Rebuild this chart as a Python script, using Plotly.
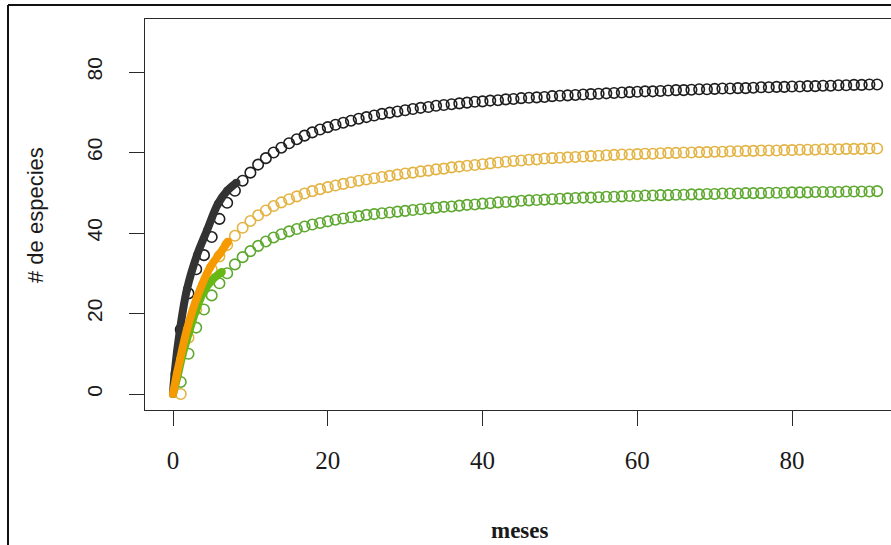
import plotly.graph_objects as go

# ---- data ----
months = list(range(1, 92))

black_open = [16, 25, 31, 34.5, 39, 43.5, 47.5, 50.5, 53, 55, 57, 58.6, 60, 61.2, 62.3, 63.3, 64.2, 65, 65.7, 66.3,
              66.9, 67.4, 67.9, 68.4, 68.8, 69.2, 69.6, 69.9, 70.2, 70.5, 70.8, 71.1, 71.3, 71.6, 71.8, 72.0, 72.2,
              72.4, 72.6, 72.7, 72.9, 73.0, 73.2, 73.3, 73.5, 73.6, 73.7, 73.8, 74.0, 74.1, 74.2, 74.3, 74.4, 74.5,
              74.6, 74.7, 74.8, 74.9, 75.0, 75.1, 75.2, 75.2, 75.3, 75.4, 75.5, 75.5, 75.6, 75.7, 75.7, 75.8, 75.9,
              75.9, 76.0, 76.0, 76.1, 76.2, 76.2, 76.3, 76.3, 76.4, 76.4, 76.5, 76.5, 76.6, 76.6, 76.7, 76.7, 76.8,
              76.8, 76.9, 76.9]

orange_open = [0, 14, 21, 27, 31, 34.2, 37, 39.3, 41.3, 43, 44.4, 45.6, 46.7, 47.6, 48.4, 49.1, 49.8, 50.4, 50.9,
               51.4, 51.8, 52.2, 52.6, 53.0, 53.3, 53.6, 53.9, 54.2, 54.5, 54.8, 55.0, 55.3, 55.5, 55.8, 56.0, 56.3,
               56.5, 56.7, 56.9, 57.1, 57.3, 57.5, 57.7, 57.9, 58.0, 58.2, 58.3, 58.5, 58.6, 58.7, 58.8, 58.9, 59.0,
               59.1, 59.2, 59.3, 59.4, 59.5, 59.5, 59.6, 59.7, 59.7, 59.8, 59.9, 59.9, 60.0, 60.0, 60.1, 60.1, 60.2,
               60.2, 60.3, 60.3, 60.4, 60.4, 60.5, 60.5, 60.5, 60.6, 60.6, 60.7, 60.7, 60.7, 60.8, 60.8, 60.8, 60.9,
               60.9, 60.9, 61.0, 61.0]

green_open = [3, 10, 16.5, 21, 24.5, 27.5, 30, 32.2, 34.0, 35.5, 36.8, 37.9, 38.9, 39.7, 40.4, 41.0, 41.6, 42.1,
              42.5, 42.9, 43.3, 43.6, 43.9, 44.2, 44.5, 44.7, 44.9, 45.1, 45.3, 45.5, 45.7, 45.9, 46.1, 46.3, 46.5,
              46.6, 46.8, 47.0, 47.1, 47.3, 47.4, 47.6, 47.7, 47.8, 48.0, 48.1, 48.2, 48.3, 48.4, 48.5, 48.6, 48.7,
              48.8, 48.8, 48.9, 49.0, 49.0, 49.1, 49.2, 49.2, 49.3, 49.3, 49.4, 49.4, 49.5, 49.5, 49.6, 49.6, 49.7,
              49.7, 49.8, 49.8, 49.8, 49.9, 49.9, 49.9, 50.0, 50.0, 50.0, 50.1, 50.1, 50.1, 50.2, 50.2, 50.2, 50.2,
              50.3, 50.3, 50.3, 50.3, 50.4]

black_fill_x = [0, 0.2, 0.9, 1.8, 3.1, 4.4, 5.8, 7.0, 8.2]
black_fill_y = [0, 5, 16, 26, 34.5, 40.7, 47.2, 50.5, 52.5]
orange_fill_x = [0, 0.5, 0.9, 1.8, 3.1, 4.8, 6.1, 7.1]
orange_fill_y = [0, 5, 8.5, 16, 24, 31.5, 35, 37.8]
green_fill_x = [0, 0.6, 1.2, 2.1, 3.1, 4.0, 5.0, 6.3]
green_fill_y = [0, 4.5, 9.5, 15.5, 21.5, 25.5, 28.2, 30.3]

x_ticks = [0, 20, 40, 60, 80]
y_ticks = [0, 20, 40, 60, 80]

# ---- styles ----
C_BLACK_O, C_BLACK_F = "#1e1e1e", "#333333"
C_OR_O, C_OR_F = "#E3B444", "#F59A00"
C_GR_O, C_GR_F = "#5EA830", "#66B814"
AX = "#2a2a2a"

fig = go.Figure()

def open_pts(y, col):
    fig.add_trace(go.Scatter(x=months, y=y, mode="markers",
                             marker=dict(symbol="circle-open", size=10.5, color=col, line=dict(width=1.6, color=col)),
                             hoverinfo="skip", showlegend=False))

def fill_pts(x, y, col):
    fig.add_trace(go.Scatter(x=x, y=y, mode="lines+markers",
                             line=dict(color=col, width=8, shape="spline"),
                             marker=dict(size=8, color=col),
                             hoverinfo="skip", showlegend=False))

open_pts(black_open, C_BLACK_O)
fill_pts(black_fill_x, black_fill_y, C_BLACK_F)
open_pts(orange_open, C_OR_O)
open_pts(green_open, C_GR_O)
fill_pts(green_fill_x, green_fill_y, C_GR_F)
fill_pts(orange_fill_x, orange_fill_y, C_OR_F)

L, R, T, B = 145, 0, 19, 135
W, H = 891, 545
pw, ph = W - L - R, H - T - B

def px2paper_x(px):
    return (px - L) / pw

def py2paper_y(py):
    return (H - B - py) / ph

fig.update_layout(
    width=W, height=H,
    margin=dict(l=L, r=R, t=T, b=B, pad=0),
    paper_bgcolor="white", plot_bgcolor="white",
    showlegend=False,
    xaxis=dict(range=[-3.62, 92.79], tickvals=x_ticks, ticktext=[str(v) for v in x_ticks],
               showgrid=False, zeroline=False, showline=True, mirror=True, linecolor=AX, linewidth=1.4,
               ticks="outside", ticklen=15, tickwidth=1.4, tickcolor=AX,
               tickfont=dict(family="Liberation Serif", size=25, color="#1a1a1a"),
               ticklabelstandoff=13),
    yaxis=dict(range=[-3.975, 93.17], tickvals=y_ticks, ticktext=[str(v) for v in y_ticks],
               showgrid=False, zeroline=False, showline=True, mirror=False, linecolor=AX, linewidth=1.4,
               ticks="outside", ticklen=15, tickwidth=1.4, tickcolor=AX, tickangle=-90,
               tickfont=dict(family="Liberation Sans", size=21, color="#1a1a1a"),
               ticklabelstandoff=18),
    annotations=[
        dict(text="<b>meses</b>", x=px2paper_x(520), y=py2paper_y(530), xref="paper", yref="paper",
             showarrow=False, font=dict(family="Liberation Serif", size=23, color="#1a1a1a"),
             xanchor="center", yanchor="middle"),
        dict(text="# de especies", x=px2paper_x(35), y=py2paper_y(215), xref="paper", yref="paper",
             showarrow=False, textangle=-90, font=dict(family="Liberation Sans", size=22, color="#1a1a1a"),
             xanchor="center", yanchor="middle"),
    ],
    shapes=[
        dict(type="line", xref="paper", yref="paper", x0=px2paper_x(8), x1=px2paper_x(8),
             y0=py2paper_y(560), y1=py2paper_y(5), line=dict(color="#111", width=2)),
        dict(type="line", xref="paper", yref="paper", x0=px2paper_x(8), x1=px2paper_x(900),
             y0=py2paper_y(5), y1=py2paper_y(5), line=dict(color="#111", width=2)),
    ],
)

fig.write_html("out.html", config={"displayModeBar": False},
               post_script="document.body.style.margin='0';document.body.style.padding='0';")
